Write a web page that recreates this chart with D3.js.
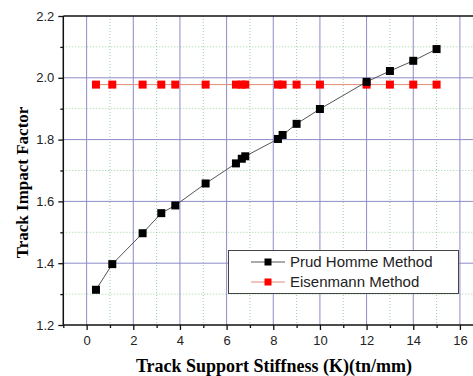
<!DOCTYPE html>
<html>
<head>
<meta charset="utf-8">
<script src="https://cdn.jsdelivr.net/npm/d3@7"></script>
<style>
  html, body { margin: 0; padding: 0; background: #fff; }
  svg { display: block; }
</style>
</head>
<body>
<svg id="chart" width="473" height="376"></svg>
<script>
// Track support stiffness K (tn/mm)
const stiffness = [0.4, 1.1, 2.4, 3.2, 3.8, 5.1, 6.4, 6.65, 6.8, 8.2, 8.4, 9.0, 10.0, 12.0, 13.0, 14.0, 15.0];
// Track impact factor, Prud'Homme method
const prudHomme = [1.314, 1.397, 1.497, 1.562, 1.587, 1.658, 1.723, 1.738, 1.746, 1.802, 1.815, 1.851, 1.899, 1.987, 2.022, 2.055, 2.093];
// Track impact factor, Eisenmann method
const eisenmann = [1.978, 1.978, 1.978, 1.978, 1.978, 1.978, 1.978, 1.978, 1.978, 1.978, 1.978, 1.978, 1.978, 1.978, 1.978, 1.978, 1.978];

const xTicks = [0, 2, 4, 6, 8, 10, 12, 14, 16];
const xMinor = [-1, 1, 3, 5, 7, 9, 11, 13, 15];
const yTicks = [1.2, 1.4, 1.6, 1.8, 2.0, 2.2];
const yMinor = [1.3, 1.5, 1.7, 1.9, 2.1];

const seriesNames = ["Prud Homme Method", "Eisenmann Method"];

const svg = d3.select("#chart");
const plotLeft = 63.3, plotTop = 16, plotBottom = 325, plotRight = 473;
const unit = 23.33;

const x = d3.scaleLinear().domain([-1, 17]).range([plotLeft, plotLeft + 18 * unit]);
const y = d3.scaleLinear().domain([1.2, 2.2]).range([plotBottom, plotTop]);

const plot = svg.append("g");

// minor grid (dotted green)
plot.selectAll(".vminor").data(xMinor.filter(d => d > -1)).enter().append("line")
  .attr("x1", d => x(d)).attr("x2", d => x(d))
  .attr("y1", plotTop).attr("y2", plotBottom)
  .attr("stroke", "#9fcf9f").attr("stroke-width", 1).attr("stroke-dasharray", "1,2");
plot.selectAll(".hminor").data(yMinor).enter().append("line")
  .attr("x1", plotLeft).attr("x2", plotRight)
  .attr("y1", d => y(d)).attr("y2", d => y(d))
  .attr("stroke", "#9fcf9f").attr("stroke-width", 1).attr("stroke-dasharray", "1,2");

// major grid (blue)
plot.selectAll(".vmajor").data(xTicks).enter().append("line")
  .attr("x1", d => x(d)).attr("x2", d => x(d))
  .attr("y1", plotTop).attr("y2", plotBottom)
  .attr("stroke", "#8c8cc8").attr("stroke-width", 1);
plot.selectAll(".hmajor").data(yTicks.filter(d => d > 1.2 && d < 2.2)).enter().append("line")
  .attr("x1", plotLeft).attr("x2", plotRight)
  .attr("y1", d => y(d)).attr("y2", d => y(d))
  .attr("stroke", "#8c8cc8").attr("stroke-width", 1);

// axes
const xAxis = d3.axisBottom(x).tickValues(xTicks).tickSize(5).tickPadding(6).tickFormat(d3.format("d"));
const xAxisMinor = d3.axisBottom(x).tickValues(xMinor).tickSize(3).tickFormat("");
const yAxis = d3.axisLeft(y).tickValues(yTicks).tickSize(5).tickPadding(4).tickFormat(d3.format(".1f"));
const yAxisMinor = d3.axisLeft(y).tickValues(yMinor).tickSize(3).tickFormat("");

function styleAxis(g) {
  g.select(".domain").remove();
  g.selectAll(".tick line").attr("stroke", "#111").attr("stroke-width", 1.3);
  g.selectAll(".tick text").attr("fill", "#222")
    .style("font-family", "'Liberation Sans', Arial, sans-serif").style("font-size", "13px");
}
svg.append("g").attr("transform", `translate(0,${plotBottom})`).call(xAxis).call(styleAxis);
svg.append("g").attr("transform", `translate(0,${plotBottom})`).call(xAxisMinor).call(styleAxis);
svg.append("g").attr("transform", `translate(${plotLeft},0)`).call(yAxis).call(styleAxis);
svg.append("g").attr("transform", `translate(${plotLeft},0)`).call(yAxisMinor).call(styleAxis);

// frame lines
svg.append("line").attr("x1", plotLeft).attr("x2", plotRight).attr("y1", plotBottom).attr("y2", plotBottom)
  .attr("stroke", "#111").attr("stroke-width", 1.5);
svg.append("line").attr("x1", plotLeft).attr("x2", plotRight).attr("y1", plotTop).attr("y2", plotTop)
  .attr("stroke", "#111").attr("stroke-width", 1.5);
svg.append("line").attr("x1", plotLeft).attr("x2", plotLeft).attr("y1", plotTop).attr("y2", plotBottom)
  .attr("stroke", "#111").attr("stroke-width", 1.5);

// series
const line = d3.line().x(d => x(d[0])).y(d => y(d[1]));
const prudPts = stiffness.map((k, i) => [k, prudHomme[i]]);
const eisPts = stiffness.map((k, i) => [k, eisenmann[i]]);

svg.append("path").datum(eisPts).attr("d", line)
  .attr("fill", "none").attr("stroke", "#e08a78").attr("stroke-width", 1);
svg.append("path").datum(prudPts).attr("d", line)
  .attr("fill", "none").attr("stroke", "#555").attr("stroke-width", 1);

const ms = 8;
svg.selectAll(".eis").data(eisPts).enter().append("rect")
  .attr("x", d => x(d[0]) - ms / 2).attr("y", d => y(d[1]) - ms / 2)
  .attr("width", ms).attr("height", ms).attr("fill", "#ff0000");
svg.selectAll(".prud").data(prudPts).enter().append("rect")
  .attr("x", d => x(d[0]) - ms / 2).attr("y", d => y(d[1]) - ms / 2)
  .attr("width", ms).attr("height", ms).attr("fill", "#000");

// legend
const lg = svg.append("g");
lg.append("rect").attr("x", 228.5).attr("y", 250.5).attr("width", 230).attr("height", 43)
  .attr("fill", "#fff").attr("stroke", "#444").attr("stroke-width", 1);
const legendItems = [
  { name: seriesNames[0], line: "#555", mark: "#000", cy: 262 },
  { name: seriesNames[1], line: "#e08a78", mark: "#ff0000", cy: 282 }
];
legendItems.forEach(it => {
  lg.append("line").attr("x1", 251).attr("x2", 285).attr("y1", it.cy).attr("y2", it.cy)
    .attr("stroke", it.line).attr("stroke-width", 1);
  lg.append("rect").attr("x", 268 - 3.5).attr("y", it.cy - 3.5).attr("width", 7).attr("height", 7)
    .attr("fill", it.mark);
  lg.append("text").attr("x", 290).attr("y", it.cy).attr("dy", "0.35em")
    .attr("fill", "#222")
    .style("font-family", "'Liberation Sans', Arial, sans-serif").style("font-size", "15px")
    .text(it.name);
});

// axis titles
svg.append("text").attr("x", 274).attr("y", 372)
  .attr("text-anchor", "middle")
  .style("font-family", "'Liberation Serif', 'Times New Roman', serif")
  .style("font-weight", "bold").style("font-size", "18px").attr("fill", "#000")
  .text("Track Support Stiffness (K)(tn/mm)");
svg.append("text").attr("transform", "translate(28,182.5) rotate(-90)")
  .attr("text-anchor", "middle")
  .style("font-family", "'Liberation Serif', 'Times New Roman', serif")
  .style("font-weight", "bold").style("font-size", "17px").attr("fill", "#000")
  .text("Track Impact Factor");
</script>
</body>
</html>
